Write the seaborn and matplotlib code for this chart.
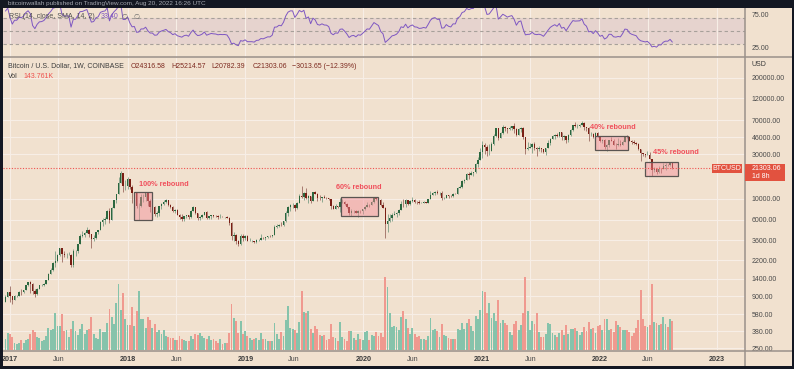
import numpy as np
import pandas as pd
import matplotlib
matplotlib.use("Agg")
import matplotlib.pyplot as plt
import matplotlib.dates as mdates
from matplotlib.patches import Rectangle
from matplotlib.lines import Line2D
from matplotlib.ticker import NullLocator
import seaborn as sns

# ---------------- data (weekly BTC/USD candles, Coinbase) ----------------
first_week = "2016-12-19"

closes = [
    891, 998, 908, 830, 920, 920, 1010, 1000, 1050, 1180, 1270, 1230, 1030, 960, 1090,
    1180, 1190, 1230, 1350, 1550, 1720, 2050, 2150, 2520, 2950, 2550, 2480, 2500, 2510,
    1980, 2750, 2750, 3250, 4050, 4100, 4350, 4600, 4200, 3700, 3780, 4400, 4600, 5700,
    6000, 6150, 7400, 5900, 8000, 9700, 11300, 15000, 19100, 13900, 13900,
    16200, 13600, 11500, 11750, 8300, 8500, 10400, 10400, 11500, 9500, 8200, 8200, 6900,
    7000, 8350, 8900, 9250, 9650, 8700, 8250, 7350, 7700, 6800, 6450, 6150, 6600, 6750,
    6350, 7400, 8200, 7050, 6300, 6400, 6700, 7270, 6250, 6500, 6700, 6600, 6550, 6350,
    6420, 6380, 6400, 6300, 5550, 4000, 4100, 3550, 3250, 4000, 3850, 4050,
    3550, 3550, 3550, 3450, 3650, 3670, 3850, 3800, 3900, 4000, 3990, 4150, 5050, 5070,
    5300, 5250, 5750, 7000, 8200, 8700, 8700, 8000, 8990, 10800, 10600, 11450, 10200,
    10800, 9500, 11800, 11400, 10300, 10150, 10600, 10330, 10300, 9980, 8300, 7850, 8300,
    8220, 9200, 9300, 8800, 8100, 7050, 7400, 7500, 7100, 7500, 7400, 7750,
    8180, 8650, 8600, 9300, 10150, 9900, 9670, 8550, 8050, 5400, 5800, 6250, 6770, 6900,
    7130, 7700, 8900, 8750, 9700, 8900, 9450, 9750, 9350, 9300, 9050, 9100, 9250, 9150,
    9950, 11050, 11700, 11900, 11650, 11650, 10250, 10320, 11080, 10780, 10670, 11380,
    11370, 13030, 13550, 15480, 15970, 18420, 18200, 19150, 19280, 23850, 26250, 32200,
    38200, 35800, 32300, 33100, 38900, 47200, 57500, 45200, 50900, 59000, 57600, 55800,
    58200, 60000, 56200, 49000, 56400, 58200, 46400, 34700, 35600, 35800, 39000, 35500,
    34700, 35300, 34200, 31800, 35400, 39900, 44400, 47000, 49000, 47100, 51800, 46000,
    47300, 42800, 48200, 54700, 61500, 60900, 61300, 61500, 65500, 59700, 57300, 49400,
    50100, 46700, 50800, 47300,
    41800, 43100, 36300, 37900, 42400, 42200, 38300, 37700, 38400, 37800, 41300, 46800,
    46400, 42200, 40400, 39500, 38500, 34000, 31300, 30300, 29500, 29900, 26600, 20550,
    21000, 19300, 20850, 20800, 22600, 23300, 23200, 24316.58, 21303.06,
]

highs = [
    925, 1000, 1150, 910, 925, 930, 1040, 1070, 1060, 1190, 1290, 1330, 1250, 1070, 1100,
    1200, 1210, 1250, 1350, 1600, 1800, 2100, 2750, 2550, 2980, 2980, 2780, 2600, 2690,
    2560, 2920, 2800, 3300, 4200, 4480, 4400, 4980, 4750, 4200, 4100, 4400, 4620, 5850,
    6200, 6450, 7600, 7900, 8100, 9800, 11400, 17000, 19800, 19200, 16000,
    17200, 16500, 14000, 12000, 11900, 9000, 11250, 11300, 11600, 11800, 9950, 9150, 8500,
    7500, 8400, 9050, 9750, 9950, 9700, 8880, 8450, 7750, 7780, 6900, 6850, 6600, 6800,
    6760, 7600, 8500, 8250, 7150, 6600, 6900, 7300, 7400, 6600, 6800, 6800, 6650, 6700,
    6950, 6500, 6480, 6560, 6380, 5600, 4400, 4200, 3600, 4200, 4250, 4100,
    4100, 3800, 3650, 3550, 3680, 3700, 4200, 3900, 3950, 4050, 4100, 4150, 5300, 5450,
    5350, 5650, 5800, 7500, 8300, 8900, 9100, 8800, 9350, 11200, 13800, 12000, 13200,
    11100, 10700, 11900, 12300, 11500, 10950, 10600, 10900, 10450, 10350, 10000, 8550, 8800,
    8420, 10350, 9900, 9500, 9100, 8100, 7850, 7700, 7600, 7550, 7700, 7800,
    8450, 9200, 8750, 9600, 10150, 10500, 10250, 9950, 9200, 8200, 6900, 6950, 7150, 7450,
    7300, 7750, 9450, 10050, 9950, 9850, 9750, 10400, 9950, 9600, 9800, 9300, 9450, 9350,
    10100, 12100, 11900, 12050, 12450, 11750, 12100, 10600, 11100, 10950, 10950, 11450,
    11700, 13300, 14050, 15950, 16400, 18800, 19500, 19900, 19450, 24300, 28400, 34800,
    41950, 40100, 37800, 38500, 40950, 49700, 58350, 57500, 52650, 61800, 60600, 58400,
    60000, 61300, 64900, 57500, 58000, 59000, 59600, 46700, 40900, 39500, 39500, 41300,
    36000, 36600, 35100, 34600, 35400, 42600, 45300, 48100, 49400, 50500, 51900, 52900,
    48800, 47300, 49200, 56600, 62900, 67000, 63700, 64300, 69000, 66400, 59400, 59100,
    51900, 50500, 51900, 52100,
    47600, 44500, 43500, 38900, 42600, 45800, 44500, 39800, 45400, 42500, 42400, 46900,
    48200, 47500, 42400, 42900, 40800, 40000, 34300, 31400, 30700, 32400, 31600, 26900,
    21900, 21500, 22500, 21700, 24300, 24600, 23700, 24900, 25214.57,
]

lows = [
    788, 885, 780, 750, 820, 880, 915, 930, 985, 1050, 1150, 980, 960, 890, 940,
    1080, 1150, 1170, 1230, 1350, 1550, 1700, 1850, 2100, 2450, 2100, 2400, 2300, 2480,
    1840, 1880, 2420, 2650, 3300, 3950, 3900, 4300, 3950, 2980, 3500, 3700, 4200, 4600,
    5100, 5400, 6100, 5500, 5900, 7900, 9000, 11300, 15000, 12000, 12500,
    12800, 12900, 9000, 10000, 7900, 6000, 8200, 9300, 9400, 8400, 7300, 8000, 6600,
    6450, 6600, 7850, 8600, 9050, 8350, 7950, 7250, 7050, 6700, 6150, 5750, 5800, 6250,
    6100, 6300, 7350, 6900, 5950, 5900, 6300, 6700, 6150, 6150, 6150, 6350, 6450, 6150,
    6300, 6350, 6250, 6250, 5250, 3600, 3550, 3250, 3150, 3200, 3550, 3650,
    3500, 3500, 3450, 3380, 3400, 3550, 3650, 3700, 3650, 3800, 3900, 3900, 4100, 4900,
    4950, 5100, 5150, 5700, 6600, 7500, 8050, 7450, 7750, 8950, 10350, 9700, 10100,
    9050, 9100, 9400, 11200, 9600, 9850, 9350, 10250, 10000, 9700, 7750, 7780, 7800,
    7900, 7300, 9050, 8650, 8000, 6800, 6500, 7100, 7050, 6450, 7100, 6850,
    7700, 8100, 8250, 8550, 9150, 9650, 9300, 8450, 8000, 3850, 4450, 5700, 5850, 6750,
    6450, 6800, 7650, 8100, 8200, 8700, 8650, 9250, 9100, 8900, 8850, 8950, 9050, 9000,
    9100, 9900, 10950, 11150, 11400, 11100, 9850, 9900, 10250, 10150, 10400, 10550,
    11200, 11350, 12950, 13200, 14850, 15800, 16200, 18200, 17600, 19000, 21800, 25900,
    27700, 30300, 28800, 29300, 32300, 37900, 46400, 43000, 45000, 49300, 53300, 50400,
    55500, 55450, 51000, 47000, 48800, 52900, 43800, 30000, 33400, 34800, 31100, 33350,
    28800, 32700, 32100, 31100, 29300, 35200, 37500, 43800, 43900, 46300, 46500, 42800,
    43400, 39600, 40800, 47100, 54200, 59500, 58000, 59400, 62300, 55600, 53300, 42000,
    46800, 45600, 45600, 45700,
    40600, 39700, 34000, 32900, 36300, 41700, 38000, 34300, 37200, 37200, 37600, 40500,
    45200, 41900, 39200, 38600, 37600, 33700, 25400, 28700, 28000, 29300, 26600, 17600,
    19600, 18600, 19000, 18900, 20800, 20700, 22400, 22700, 20782.39,
]

# weekly volume, thousands of BTC
volumes_k = [
    54, 84, 81, 64, 34, 29, 34, 49, 34, 49, 54, 79, 98, 88, 64, 59, 42, 51, 67, 110,
    98, 103, 184, 120, 120, 179, 93, 98, 64, 105, 145, 93, 76, 106, 130, 79, 98, 105, 165, 79,
    59, 52, 105, 88, 88, 135, 206, 164, 130, 238, 332, 199, 288, 157, 125, 125, 214, 120, 194, 299,
    155, 155, 110, 164, 148, 110, 130, 88, 101, 79, 101, 71, 64, 59, 59, 51, 51, 67, 56, 51,
    46, 42, 71, 54, 79, 76, 83, 67, 59, 54, 71, 49, 54, 42, 34, 54, 29, 32, 34, 83,
    231, 160, 143, 84, 143, 79, 93, 67, 61,
    51, 56, 61, 51, 84, 54, 54, 46, 42, 42, 135, 79, 54, 88, 67, 148, 223, 110, 105, 100,
    84, 138, 295, 189, 186, 194, 105, 84, 118, 105, 73, 71, 73, 51, 54, 132, 62, 61, 46, 138,
    62, 54, 42, 93, 93, 59, 47, 81, 54, 51, 89, 93, 49, 73, 71, 88, 71, 83, 64, 368,
    315, 186, 115, 118, 113, 101, 167, 194, 157, 110, 79, 108, 79, 64, 71, 54, 52, 47, 67, 160,
    101, 105, 96, 64, 130, 73, 67, 59, 54, 54, 54, 105, 100, 135, 105, 135, 157, 121, 96, 169,
    155, 201, 297, 292, 186, 236, 160, 186, 147, 250,
    135, 148, 135, 127, 88, 73, 130, 143, 100, 127, 186, 366, 194, 101, 143, 130, 186, 88, 64, 64,
    81, 135, 130, 84, 76, 64, 84, 100, 76, 127, 81, 105, 105, 110, 93, 73, 88, 115, 96, 140,
    105, 110, 84, 118, 125, 101, 157, 157, 101, 106, 91, 143, 127, 113, 101, 101, 101, 88, 67, 84,
    110, 148, 302, 155, 118, 115, 127, 332, 140, 135, 123, 130, 164, 130, 115, 157, 143,
]

# 2016 weekly closes used only to warm up the RSI
warmup_closes = [
    448, 382, 403, 378, 377, 407, 438, 433, 404, 413, 410, 426, 420, 421, 428, 458, 448,
    458, 456, 439, 526, 574, 684, 763, 630, 704, 648, 679, 655, 623, 592, 567, 581, 573,
    610, 606, 609, 600, 612, 617, 640, 657, 700, 711, 703, 731, 731, 768, 780, 790,
]

# annotation boxes
box_labels = ["100% rebound", "60% rebound", "40% rebound", "45% rebound"]
box_starts = ["2018-01-20", "2019-10-24", "2021-12-20", "2022-05-21"]
box_ends = ["2018-03-17", "2020-02-15", "2022-04-01", "2022-09-01"]
box_lows = [5940, 6560, 33250, 17600]
box_highs = [11900, 10500, 47000, 24700]
label_dates = ["2018-02-04", "2019-10-08", "2021-12-03", "2022-06-17"]
label_prices = [14360, 13110, 58750, 31360]

price_ticks = [250, 380, 580, 900, 1400, 2200, 3600, 6000, 10000, 30000, 46000, 70000, 120000, 200000]
date_ticks = ["2017-01-01", "2017-06-01", "2018-01-01", "2018-06-01", "2019-01-01", "2019-06-01",
              "2020-01-01", "2020-06-01", "2021-01-01", "2021-06-01", "2022-01-01", "2022-06-01",
              "2023-01-01"]
date_tick_labels = ["2017", "Jun", "2018", "Jun", "2019", "Jun", "2020", "Jun", "2021", "Jun",
                    "2022", "Jun", "2023"]
last_price = 21303.06

# ---------------- styling ----------------
sns.set_theme(style="white")
plt.rcParams["font.family"] = ["Liberation Sans", "DejaVu Sans"]
plt.rcParams["axes.unicode_minus"] = True

DARK = "#131722"
BG = "#f1e1cf"
GRID = "#f7eee6"
SEP = "#9a918a"
UP_BODY, DN_BODY = "#2b673f", "#7a1e14"
UP_WICK, DN_WICK = "#7d9f86", "#9c6b62"
VOL_UP, VOL_DN = "#86c3ab", "#f0998f"
RED = "#ef5350"
ANN = "#f0505c"
TXT = "#3c3c3c"

W, H = 794, 369
fig = plt.figure(figsize=(W / 100, H / 100), dpi=100, facecolor=DARK)


def fx(x):
    return x / W


def fy(y):
    return 1 - y / H


bg = Rectangle((fx(3.3), fy(365.7)), fx(792) - fx(3.3), fy(8) - fy(365.7),
               transform=fig.transFigure, facecolor=BG, edgecolor="none")
fig.add_artist(bg)
bg.set_zorder(-1)

L, R = 3.3, 745
ax = fig.add_axes([fx(L), fy(351), fx(R) - fx(L), fy(58) - fy(351)])
ax_vol = fig.add_axes([fx(L), fy(351), fx(R) - fx(L), fy(58) - fy(351)], sharex=ax)
ax_rsi = fig.add_axes([fx(L), fy(56.7), fx(R) - fx(L), fy(8) - fy(56.7)], sharex=ax)
ax.set_zorder(1)
ax_vol.set_zorder(2)
for a in (ax, ax_vol, ax_rsi):
    a.patch.set_visible(False)
    for s in a.spines.values():
        s.set_visible(False)

dates = pd.date_range(first_week, periods=len(closes), freq="W-MON")
xs = mdates.date2num(dates)
c = np.array(closes, float)
o = np.r_[warmup_closes[-1], c[:-1]]
hi = np.array(highs, float)
lo = np.array(lows, float)
up = c >= o

# ---------------- price panel ----------------
ax.set_yscale("log")
ax.vlines(xs, lo, hi, colors=np.where(up, UP_WICK, DN_WICK), linewidth=0.6, zorder=2)
ax.bar(xs, np.abs(c - o), bottom=np.minimum(o, c), width=4.4,
       color=np.where(up, UP_BODY, DN_BODY), linewidth=0, zorder=3)

for s, e, bl, bh in zip(box_starts, box_ends, box_lows, box_highs):
    x0 = mdates.date2num(pd.Timestamp(s))
    x1 = mdates.date2num(pd.Timestamp(e))
    ax.add_patch(Rectangle((x0, bl), x1 - x0, bh - bl, facecolor=(0.96, 0.55, 0.6, 0.45),
                           edgecolor="#5a5552", linewidth=0.9, zorder=4))
for t, d, p in zip(box_labels, label_dates, label_prices):
    ax.text(mdates.date2num(pd.Timestamp(d)), p, t, color=ANN, fontsize=5.2,
            fontweight="bold", ha="left", va="center", zorder=5)

xlim = (mdates.date2num(pd.Timestamp("2016-12-12 06:00")), mdates.date2num(pd.Timestamp("2023-03-28")))
ax.axhline(last_price, xmin=0, xmax=(711.7 - L) / (R - L), color=RED, linestyle=(0, (1, 1.5)),
           linewidth=0.8, zorder=4)
ax.set_xlim(*xlim)
ax.set_ylim(233.7, 325300)
ax.yaxis.set_minor_locator(NullLocator())
ax.set_yticks(price_ticks)
ax.set_yticklabels([f"{v:.2f}" for v in price_ticks])
ax.yaxis.tick_right()
ax.tick_params(axis="y", length=0, pad=5, labelsize=5, labelcolor="#4a4a4a")
tick_x = mdates.date2num(pd.to_datetime(date_ticks))
ax.set_xticks(tick_x)
ax.set_xticklabels(date_tick_labels)
ax.tick_params(axis="x", length=0, pad=3.3, labelsize=5.2, labelcolor="#4a4a4a")
for lab in ax.get_xticklabels():
    if lab.get_text() != "Jun":
        lab.set_fontweight("bold")
        lab.set_color("#3a3a3a")
ax.grid(True, color=GRID, linewidth=0.8, zorder=0)
ax.set_axisbelow(True)

# ---------------- volume overlay ----------------
ax_vol.bar(xs, volumes_k, width=5.8, color=np.where(up, VOL_UP, VOL_DN), linewidth=0)
ax_vol.set_ylim(-7, 1476)
ax_vol.set_yticks([])
ax_vol.tick_params(axis="x", bottom=False, labelbottom=False)
ax_vol.grid(False)

# ---------------- RSI panel ----------------
allc = np.array(warmup_closes + closes, float)
dlt = np.diff(allc)
gain = np.where(dlt > 0, dlt, 0.0)
loss = np.where(dlt < 0, -dlt, 0.0)
n = 14
ag = np.full(len(dlt), np.nan)
al = np.full(len(dlt), np.nan)
ag[n - 1] = gain[:n].mean()
al[n - 1] = loss[:n].mean()
for i in range(n, len(dlt)):
    ag[i] = (ag[i - 1] * (n - 1) + gain[i]) / n
    al[i] = (al[i - 1] * (n - 1) + loss[i]) / n
rsi_all = np.r_[np.nan, 100 - 100 / (1 + ag / al)]
rsi = rsi_all[-len(closes):]

ax_rsi.axhspan(30, 70, color="#e6d3ce", zorder=0, linewidth=0)
for lvl in (70, 50, 30):
    ax_rsi.axhline(lvl, color="#a7a09a", linewidth=0.8, linestyle=(0, (3, 2.5)), zorder=1)
sns.lineplot(x=xs, y=rsi, ax=ax_rsi, color="#7e57c2", linewidth=0.7, zorder=3)
ax_rsi.set_ylim(11.4, 84.6)
ax_rsi.set_yticks([25, 75])
ax_rsi.set_yticklabels(["25.00", "75.00"])
ax_rsi.yaxis.tick_right()
ax_rsi.tick_params(axis="y", length=0, pad=5, labelsize=5, labelcolor="#4a4a4a")
ax_rsi.tick_params(axis="x", bottom=False, labelbottom=False)
ax_rsi.grid(True, axis="x", color=GRID, linewidth=0.8, zorder=0)
ax_rsi.set_axisbelow(True)
ax.set_xlim(*xlim)

# ---------------- separators and frame ----------------
for (x0, y0, x1, y1) in [(3.3, 56.7, 792, 56.7), (3.3, 351, 792, 351), (745, 8, 745, 365.7)]:
    fig.add_artist(Line2D([fx(x0), fx(x1)], [fy(y0), fy(y1)], color=SEP, linewidth=1.1,
                          transform=fig.transFigure, zorder=6))
for (x0, y0, x1, y1) in [(0, 0, 3.3, H), (792, 0, W, H), (0, 365.7, W, H), (0, 0, W, 8)]:
    r = Rectangle((fx(x0), fy(y1)), fx(x1) - fx(x0), fy(y0) - fy(y1), transform=fig.transFigure,
                  facecolor=DARK, edgecolor="none", zorder=8)
    fig.add_artist(r)

# ---------------- texts ----------------
def ftext(x, y, s, **kw):
    kw.setdefault("va", "center")
    kw.setdefault("ha", "left")
    kw.setdefault("fontsize", 5)
    return fig.text(fx(x), fy(y), s, zorder=10, **kw)


ftext(8, 3.6, "bitcoinwallah published on TradingView.com, Aug 20, 2022 16:26 UTC",
      color="#a3a6af", fontsize=4.6)
ftext(8.7, 16.7, "RSI (14, close, SMA, 14, 2)", color="#4e4e4e")
ftext(101, 16.7, "33.40", color="#7e57c2")
ftext(121, 16.7, "\u2205", color="#6a6a6a", family=["DejaVu Sans"])
ftext(133, 16.7, "\u2205", color="#6a6a6a", family=["DejaVu Sans"])

ftext(8.3, 66, "Bitcoin / U.S. Dollar, 1W, COINBASE", color=TXT)
for xx, s in [(130.3, "O24316.58"), (171, "H25214.57"), (211.7, "L20782.39"),
              (252.3, "C21303.06"), (292.5, "\u22123013.65 (\u221212.39%)")]:
    ftext(xx, 66, s, color="#7d2a20")
ftext(8.3, 76.3, "Vol", color=TXT)
ftext(23, 76.3, "143.761K", color=RED)
ftext(752, 64.3, "USD", color="#3a3a3a")

# price labels on the right
for (x0, y0, x1, y1) in [(745, 164, 784.7, 180.7), (711.7, 164.3, 742.3, 172.7)]:
    fig.add_artist(Rectangle((fx(x0), fy(y1)), fx(x1) - fx(x0), fy(y0) - fy(y1),
                             transform=fig.transFigure, facecolor="#e2523f", edgecolor="none", zorder=9))
ftext(751.5, 168.6, "21303.06", color="white")
ftext(751.5, 176.3, "1d 8h", color="white")
ftext(727, 168.6, "BTCUSD", color="white", ha="center")

fig.savefig("out.png", dpi=100, facecolor=DARK)
